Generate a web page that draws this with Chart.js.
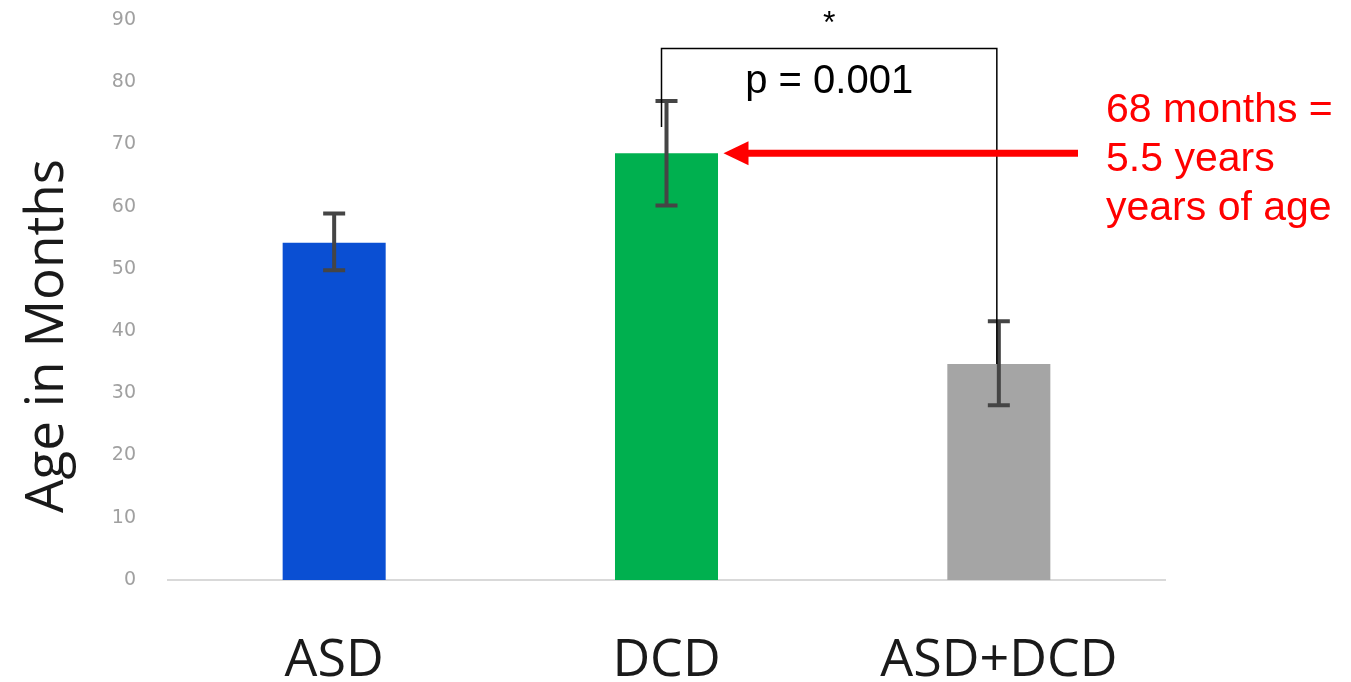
<!DOCTYPE html>
<html lang="en">
  <head>
    <meta charset="UTF-8" />
    <title>Age in Months</title>
    <script src="https://cdn.jsdelivr.net/npm/chart.js"></script>
    <style>
      html, body { margin: 0; padding: 0; background: #ffffff; }
      #wrap { width: 1351px; height: 682px; }
    </style>
  </head>
  <body>
    <div id="wrap"><canvas id="myChart"></canvas></div>
    <script>
      const categories = ["ASD", "DCD", "ASD+DCD"];
      const means = [54.2, 68.6, 34.7];
      const errLow = [49.8, 60.2, 28.1];
      const errHigh = [58.9, 77.0, 41.6];
      const barColors = ["#0a4fd3", "#00b04f", "#a5a5a5"];
      const yTicks = [0, 10, 20, 30, 40, 50, 60, 70, 80, 90];

      // bracket between DCD and ASD+DCD, in data units
      const bracketTop = 85.4;
      const bracketLeftEnd = 72.8;
      const yTitle = "Age in Months";
      const noteLines = ["68 months =", "5.5 years", "years of age"];

      const errorBars = {
        id: "errorBars",
        afterDatasetsDraw(chart) {
          const { ctx, scales } = chart;
          const x = scales.x, y = scales.y;
          ctx.save();
          ctx.strokeStyle = "#454545";
          ctx.lineWidth = 4;
          means.forEach((m, i) => {
            const cx = x.getPixelForValue(i);
            const top = y.getPixelForValue(errHigh[i]);
            const bot = y.getPixelForValue(errLow[i]);
            ctx.beginPath();
            ctx.moveTo(cx, top);
            ctx.lineTo(cx, bot);
            ctx.moveTo(cx - 11, top);
            ctx.lineTo(cx + 11, top);
            ctx.moveTo(cx - 11, bot);
            ctx.lineTo(cx + 11, bot);
            ctx.stroke();
          });
          ctx.restore();
        },
      };

      const annotations = {
        id: "annotations",
        afterDraw(chart) {
          const { ctx, scales, chartArea } = chart;
          const x = scales.x, y = scales.y;
          const x1 = x.getPixelForValue(1) - 5;
          const x2 = x.getPixelForValue(2) - 2;
          const yt = y.getPixelForValue(bracketTop);
          ctx.save();

          // y axis title
          ctx.save();
          ctx.translate(48, (chartArea.top + chartArea.bottom) / 2 + 36);
          ctx.rotate(-Math.PI / 2);
          ctx.fillStyle = "#1a1a1a";
          ctx.textAlign = "center";
          ctx.textBaseline = "middle";
          ctx.font = "53px 'Open Sans', sans-serif";
          ctx.fillText(yTitle, 0, 0);
          ctx.restore();

          ctx.strokeStyle = "#000000";
          ctx.lineWidth = 1.5;
          ctx.beginPath();
          ctx.moveTo(x1, y.getPixelForValue(bracketLeftEnd));
          ctx.lineTo(x1, yt);
          ctx.lineTo(x2, yt);
          ctx.lineTo(x2, y.getPixelForValue(means[2]));
          ctx.stroke();

          ctx.fillStyle = "#000000";
          ctx.textAlign = "center";
          ctx.textBaseline = "alphabetic";
          ctx.font = "32px 'Liberation Sans', Arial, sans-serif";
          ctx.fillText("*", (x1 + x2) / 2, yt - 16);
          ctx.font = "40px 'Liberation Sans', Arial, sans-serif";
          ctx.fillText("p = 0.001", (x1 + x2) / 2, yt + 44);

          // red arrow pointing at DCD bar top
          const ay = y.getPixelForValue(means[1]);
          const tip = x.getPixelForValue(1) + 57;
          ctx.fillStyle = "#ff0000";
          ctx.strokeStyle = "#ff0000";
          ctx.lineWidth = 7;
          ctx.beginPath();
          ctx.moveTo(1078, ay);
          ctx.lineTo(tip + 20, ay);
          ctx.stroke();
          ctx.beginPath();
          ctx.moveTo(tip, ay);
          ctx.lineTo(tip + 25, ay - 12);
          ctx.lineTo(tip + 25, ay + 12);
          ctx.closePath();
          ctx.fill();

          ctx.textAlign = "left";
          ctx.font = "41px 'Liberation Sans', Arial, sans-serif";
          noteLines.forEach((t, i) => {
            ctx.fillText(t, 1106, 122 + i * 49);
          });
          ctx.restore();
        },
      };

      const ctx = document.getElementById("myChart").getContext("2d");
      new Chart(ctx, {
        type: "bar",
        data: {
          labels: categories,
          datasets: [
            {
              data: means,
              backgroundColor: barColors,
              categoryPercentage: 1,
              barPercentage: 0.31,
            },
          ],
        },
        options: {
          responsive: true,
          maintainAspectRatio: false,
          animation: false,
          layout: { padding: { top: 20, right: 186, left: 0, bottom: 0 } },
          plugins: { legend: { display: false }, tooltip: { enabled: false } },
          scales: {
            x: {
              grid: { display: false },
              border: { color: "#d9d9d9", width: 2 },
              ticks: {
                color: "#1a1a1a",
                padding: 42,
                font: { family: "'Open Sans', sans-serif", size: 52 },
              },
              afterFit: (s) => {
                s.height = 102;
                s.paddingLeft = 0;
                s.paddingRight = 0;
              },
            },
            y: {
              min: 0,
              max: 90,
              afterBuildTicks: (s) => { s.ticks = yTicks.map((v) => ({ value: v })); },
              grid: { display: false },
              border: { display: false },
              ticks: {
                color: "#a0a0a0",
                padding: 24,
                font: { family: "'DejaVu Sans', sans-serif", size: 19 },
              },
              afterFit: (s) => {
                s.width = 168;
                s.paddingTop = 0;
                s.paddingBottom = 0;
              },
            },
          },
        },
        plugins: [errorBars, annotations],
      });
    </script>
  </body>
</html>
